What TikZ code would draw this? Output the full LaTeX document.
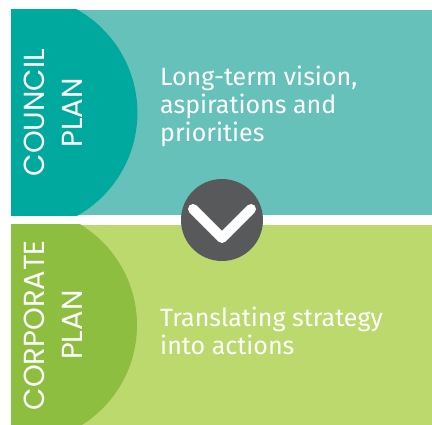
\documentclass[tikz,border=0pt]{standalone}
\usepackage{fontspec}
\setmainfont{Fira Sans}
\newfontfamily\titlefont{Poppins}
\usetikzlibrary{calc}
\definecolor{councildark}{HTML}{00A99D}
\definecolor{councillight}{HTML}{66C1BB}
\definecolor{corpdark}{HTML}{8DBE40}
\definecolor{corplight}{HTML}{BCD96E}
\definecolor{arrowgray}{HTML}{58595B}

\begin{document}
\begin{tikzpicture}[x=1pt,y=-1pt,
    band/.style={rectangle,inner sep=0pt,minimum width=421pt,anchor=north west},
    plantitle/.style={text=white,font=\titlefont\fontsize{29}{38}\selectfont,align=center,rotate=90},
    plantext/.style={text=white,font=\fontsize{25}{28}\selectfont,align=left,anchor=base west,inner sep=0pt}]
    \useasboundingbox (0,0) rectangle (432,425);
    % council plan band
    \node[band,fill=councillight,minimum height=205pt] (council) at (11,10) {};
    \begin{scope}
        \clip (council.north west) rectangle (council.south east);
        \fill[councildark] ($(council.west)+(8,0)$) circle (118.4);
    \end{scope}
    \node[plantitle] (counciltitle) at ($(council.west)+(42,0)$) {COUNCIL\\PLAN};
    \node[plantext] (counciltext) at (160,142) {Long-term vision,\\aspirations and\\priorities};
    % corporate plan band
    \node[band,fill=corplight,minimum height=200pt] (corporate) at (11,225) {};
    \begin{scope}
        \clip (corporate.north west) rectangle (corporate.south east);
        \fill[corpdark] ($(corporate.west)+(8,0)$) circle (118);
    \end{scope}
    \node[plantitle] (corporatetitle) at ($(corporate.west)+(42,0)$) {CORPORATE\\PLAN};
    \node[plantext] (corporatetext) at (160,355) {Translating strategy\\into actions};
    % arrow between
    \node[circle,fill=arrowgray,minimum size=82pt,inner sep=0pt] (arrow) at (222,220) {};
    \draw[white,line width=10pt,line cap=round,line join=round]
        ($(arrow)+(-29,-11)$) -- ($(arrow)+(0,18)$) -- ($(arrow)+(29,-11)$);
\end{tikzpicture}
\end{document}
